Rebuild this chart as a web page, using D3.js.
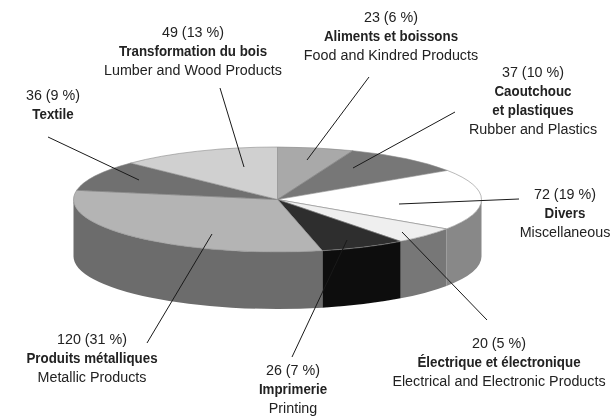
<!DOCTYPE html>
<html lang="fr">
<head>
<meta charset="utf-8">
<script src="https://d3js.org/d3.v7.min.js"></script>
<style>
body { margin: 0; background: #fff; overflow: hidden; }
text { font-family: "Liberation Sans", Arial, sans-serif; font-size: 15px; fill: #222; text-anchor: middle; }
.fr { font-weight: bold; }
</style>
</head>
<body>
<svg id="chart" width="611" height="417">
  <defs>
    <filter id="soft" x="-5%" y="-5%" width="110%" height="110%"><feGaussianBlur stdDeviation="0.6"/></filter>
    <filter id="softText" x="-5%" y="-20%" width="110%" height="140%"><feGaussianBlur stdDeviation="0.25"/></filter>
  </defs>
</svg>
<script>
// sector values, clockwise from 12 o'clock
var values = [23, 37, 72, 20, 26, 120, 36, 49];
var percents = [6, 10, 19, 5, 7, 31, 9, 13];
var namesFr = ["Aliments et boissons", "Caoutchouc|et plastiques", "Divers", "Électrique et électronique", "Imprimerie", "Produits métalliques", "Textile", "Transformation du bois"];
var namesEn = ["Food and Kindred Products", "Rubber and Plastics", "Miscellaneous", "Electrical and Electronic Products", "Printing", "Metallic Products", "", "Lumber and Wood Products"];

// styling and layout
var topColors = ["#a9a9a9", "#777777", "#ffffff", "#efefef", "#2e2e2e", "#b4b4b4", "#6f6f6f", "#d0d0d0"];
var sideColors = ["#666666", "#555555", "#888888", "#777777", "#111111", "#6c6c6c", "#555555", "#777777"];
var labelPos = [[391, 17], [533, 72], [565, 194], [499, 343], [293, 370], [92, 339], [53, 95], [193, 32]];
var leaders = [
  [[369, 77], [307, 160]],
  [[455, 112], [353, 168]],
  [[519, 199], [399, 204]],
  [[487, 320], [402, 232]],
  [[292, 357], [347, 240]],
  [[147, 343], [212, 234]],
  [[48, 137], [139, 180]],
  [[220, 88], [244, 167]]
];

var cx = 277.5, cy = 199.5, rx = 204, ry = 52.5, depth = 57, lineH = 19;
var regularSqueeze = 0.955, boldSqueeze = 0.89;
var k = ry / rx;

var svg = d3.select("#chart");
var pie = d3.pie().sort(null)(values);
var arc = d3.arc().innerRadius(0).outerRadius(rx);

var g = svg.append("g")
  .attr("filter", "url(#soft)")
  .append("g")
  .attr("transform", "translate(" + cx + "," + cy + ") scale(1," + k + ")");

// side wall of a sector, only the front half of the disc shows
function wall(a0, a1) {
  var p = d3.path(), h = depth / k;
  a0 -= Math.PI / 2; a1 -= Math.PI / 2;
  p.moveTo(rx * Math.cos(a0), rx * Math.sin(a0));
  p.arc(0, 0, rx, a0, a1);
  p.lineTo(rx * Math.cos(a1), rx * Math.sin(a1) + h);
  p.arc(0, h, rx, a1, a0, true);
  p.closePath();
  return p.toString();
}

var front = pie.map(function(d, i) {
  return {a0: Math.max(d.startAngle, Math.PI / 2), a1: Math.min(d.endAngle, Math.PI * 3 / 2), i: i};
}).filter(function(d) { return d.a1 > d.a0; });

g.selectAll("path.side").data(front).enter().append("path")
  .attr("class", "side")
  .attr("d", function(d) { return wall(d.a0, d.a1); })
  .attr("fill", function(d) { return sideColors[d.i]; });

g.selectAll("path.slice").data(pie).enter().append("path")
  .attr("class", "slice")
  .attr("d", arc)
  .attr("fill", function(d, i) { return topColors[i]; })
  .attr("stroke", "#8a8a8a")
  .attr("stroke-width", 0.6)
  .attr("vector-effect", "non-scaling-stroke");

svg.selectAll("line.leader").data(leaders).enter().append("line")
  .attr("class", "leader")
  .attr("x1", function(d) { return d[0][0]; })
  .attr("y1", function(d) { return d[0][1]; })
  .attr("x2", function(d) { return d[1][0]; })
  .attr("y2", function(d) { return d[1][1]; })
  .attr("stroke", "#1a1a1a")
  .attr("stroke-width", 1);

var labels = svg.append("g").attr("filter", "url(#softText)");
values.forEach(function(v, i) {
  var lines = [{t: v + " (" + percents[i] + " %)", c: ""}];
  namesFr[i].split("|").forEach(function(s) { lines.push({t: s, c: "fr"}); });
  if (namesEn[i]) lines.push({t: namesEn[i], c: ""});
  labels.append("g").selectAll("text").data(lines).enter().append("text")
    .attr("class", function(d) { return d.c; })
    .attr("transform", function(d, j) {
      var s = d.c == "fr" ? boldSqueeze : regularSqueeze;
      return "translate(" + labelPos[i][0] + "," + (labelPos[i][1] + j * lineH) + ") scale(" + s + ",1)";
    })
    .attr("dy", "0.35em")
    .text(function(d) { return d.t; });
});
</script>
</body>
</html>
